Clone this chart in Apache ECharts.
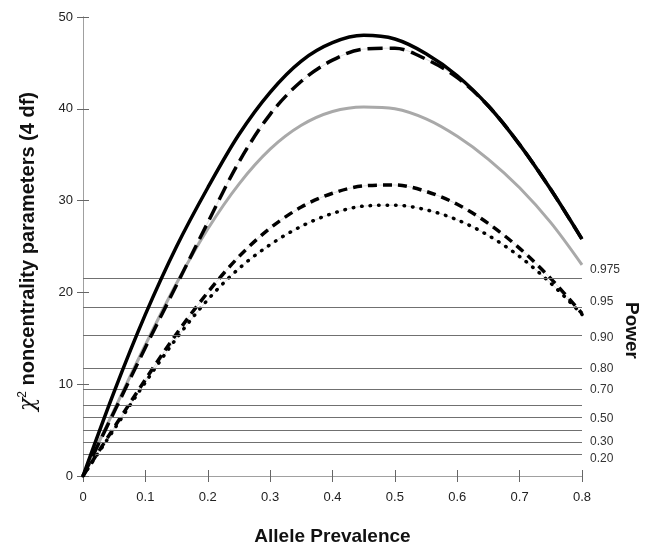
<!DOCTYPE html>
<html>
<head>
<meta charset="utf-8">
<script src="https://cdn.jsdelivr.net/npm/echarts@6/dist/echarts.min.js"></script>
<style>
  html, body { margin: 0; padding: 0; background: #fff; }
  #chart { width: 647px; height: 545px; }
</style>
</head>
<body>
<div id="chart"></div>
<script>
// allele prevalence (x)
const prevalence = [0, 0.05, 0.1, 0.15, 0.2, 0.25, 0.3, 0.35, 0.4, 0.45, 0.5, 0.55, 0.6, 0.65, 0.7, 0.75, 0.8]

// noncentrality curves
const solidBlack = [0, 9.2, 17.6, 25.0, 31.4, 37.2, 41.8, 45.2, 47.2, 48.0, 47.6, 46.0, 43.6, 40.3, 36.1, 31.2, 25.8]
const longDash   = [0, 7.0, 14.0, 20.8, 27.6, 34.2, 39.4, 43.0, 45.3, 46.5, 46.6, 45.4, 43.4, 40.3, 36.1, 31.2, 25.8]
const grayLine   = [0, 7.2, 14.3, 21.0, 26.9, 31.8, 35.6, 38.2, 39.7, 40.2, 40.0, 38.9, 37.0, 34.5, 31.4, 27.6, 23.0]
const shortDash  = [0, 5.3, 10.5, 15.5, 20.0, 23.9, 27.0, 29.3, 30.8, 31.6, 31.7, 31.0, 29.6, 27.5, 24.8, 21.5, 17.7]
const dotted     = [0, 5.1, 10.2, 15.0, 19.2, 22.6, 25.2, 27.2, 28.6, 29.4, 29.5, 29.0, 27.9, 26.2, 23.9, 21.0, 17.6]

// power reference lines
const powerValues = [21.5, 18.4, 15.3, 11.7, 9.4, 7.7, 6.4, 5.0, 3.7, 2.4]
const powerLabels = ['0.975', '0.95', '0.90', '0.80', '0.70', '', '0.50', '', '0.30', '0.20']

const toPairs = ys => prevalence.map((x, i) => [x, ys[i]])

// small vertical nudges so the labels do not collide
const labelNudge = { '0.975': -9, '0.95': -5, '0.90': 2, '0.50': 1, '0.20': 5 }

const chart = echarts.init(document.getElementById('chart'))

const axisGray = '#a0a0a0'
const fontFam = 'Liberation Sans, Arial, sans-serif'
const tickFont = { color: '#222', fontSize: 13, fontFamily: fontFam }
// 1/3 gives a catmull-rom like curve without overshoot
const curveSmooth = 0.33

// thin hairline behind each dashed curve
const hairline = (ys) => ({
  type: 'line',
  data: toPairs(ys),
  smooth: curveSmooth,
  symbol: 'none',
  silent: true,
  z: 1,
  lineStyle: { color: '#d0d0d0', width: 0.7 }
})

const option = {
  animation: false,
  backgroundColor: '#fff',
  grid: { left: 83, right: 65, top: 17, bottom: 69, containLabel: false, outerBoundsMode: 'none' },
  xAxis: [
    {
      type: 'value',
      min: 0, max: 0.8, interval: 0.1,
      position: 'bottom',
      name: 'Allele Prevalence',
      nameLocation: 'middle',
      nameGap: 51,
      nameTextStyle: { fontSize: 19, fontWeight: 'bold', color: '#111', fontFamily: fontFam },
      axisLine: { lineStyle: { color: axisGray } },
      axisTick: { inside: true, length: 6, lineStyle: { color: '#666' } },
      axisLabel: { ...tickFont, margin: 15, formatter: v => (v === 0 ? '0' : v.toFixed(1)) },
      splitLine: { show: false }
    },
    {
      type: 'value',
      min: 0, max: 0.8, interval: 0.1,
      position: 'top',
      axisLine: { lineStyle: { color: axisGray } },
      axisTick: { inside: true, length: 6, lineStyle: { color: '#666' } },
      axisLabel: { show: false },
      splitLine: { show: false }
    }
  ],
  yAxis: [
    {
      type: 'value',
      min: 0, max: 50, interval: 10,
      position: 'left',
      name: '{chi|χ}{sup|2}{b| noncentrality parameters (4 df)}',
      nameLocation: 'middle',
      nameRotate: 90,
      nameGap: 44,
      nameTextStyle: {
        padding: [0, 10, 0, 0],
        rich: {
          chi: { fontSize: 22, color: '#111', fontFamily: 'DejaVu Serif, serif', fontStyle: 'italic' },
          sup: { fontSize: 12, color: '#111', fontFamily: fontFam, verticalAlign: 'top', padding: [0, 0, 9, 0] },
          b: { fontSize: 20, fontWeight: 'bold', color: '#111', fontFamily: fontFam }
        }
      },
      axisLine: { show: true, lineStyle: { color: axisGray } },
      axisTick: { show: true, inside: true, length: 6, lineStyle: { color: '#666' } },
      axisLabel: { ...tickFont, margin: 10 },
      splitLine: { show: false }
    },
    {
      type: 'value',
      min: 0, max: 50, interval: 10,
      position: 'right',
      axisLine: { show: true, lineStyle: { color: axisGray } },
      axisTick: { show: true, inside: true, length: 6, lineStyle: { color: '#666' } },
      axisLabel: { show: false },
      splitLine: { show: false }
    }
  ],
  graphic: [
    {
      type: 'text',
      left: 622,
      top: 302,
      rotation: -Math.PI / 2,
      style: {
        text: 'Power',
        fontSize: 19,
        fontWeight: 'bold',
        fill: '#111',
        fontFamily: fontFam
      }
    }
  ],
  series: [
    {
      // power lines
      type: 'line',
      data: [[0, 0]],
      symbol: 'none',
      lineStyle: { width: 0 },
      silent: true,
      markLine: {
        silent: true,
        symbol: ['none', 'none'],
        lineStyle: { color: '#707070', width: 1, type: 'solid' },
        label: {
          position: 'end',
          distance: 8,
          color: '#333',
          fontSize: 12,
          fontFamily: fontFam
        },
        data: powerValues.map((v, i) => ({
          yAxis: v,
          name: powerLabels[i],
          label: { formatter: powerLabels[i], offset: [0, labelNudge[powerLabels[i]] || 0] }
        }))
      }
    },
    hairline(longDash),
    hairline(shortDash),
    hairline(dotted),
    {
      type: 'line',
      data: toPairs(grayLine),
      smooth: curveSmooth,
      symbol: 'none',
      z: 3,
      lineStyle: { color: '#a9a9a9', width: 3 }
    },
    {
      type: 'line',
      data: toPairs(shortDash),
      smooth: curveSmooth,
      symbol: 'none',
      z: 4,
      lineStyle: { color: '#000', width: 3.5, type: [9, 6] }
    },
    {
      type: 'line',
      data: toPairs(dotted),
      smooth: curveSmooth,
      symbol: 'none',
      z: 4,
      lineStyle: { color: '#000', width: 3.5, type: [0.5, 8], cap: 'round' }
    },
    {
      type: 'line',
      data: toPairs(longDash),
      smooth: curveSmooth,
      symbol: 'none',
      z: 5,
      lineStyle: { color: '#000', width: 3.5, type: [15, 7] }
    },
    {
      type: 'line',
      data: toPairs(solidBlack),
      smooth: curveSmooth,
      symbol: 'none',
      z: 6,
      lineStyle: { color: '#000', width: 3.5 }
    }
  ]
}

chart.setOption(option)
</script>
</body>
</html>
